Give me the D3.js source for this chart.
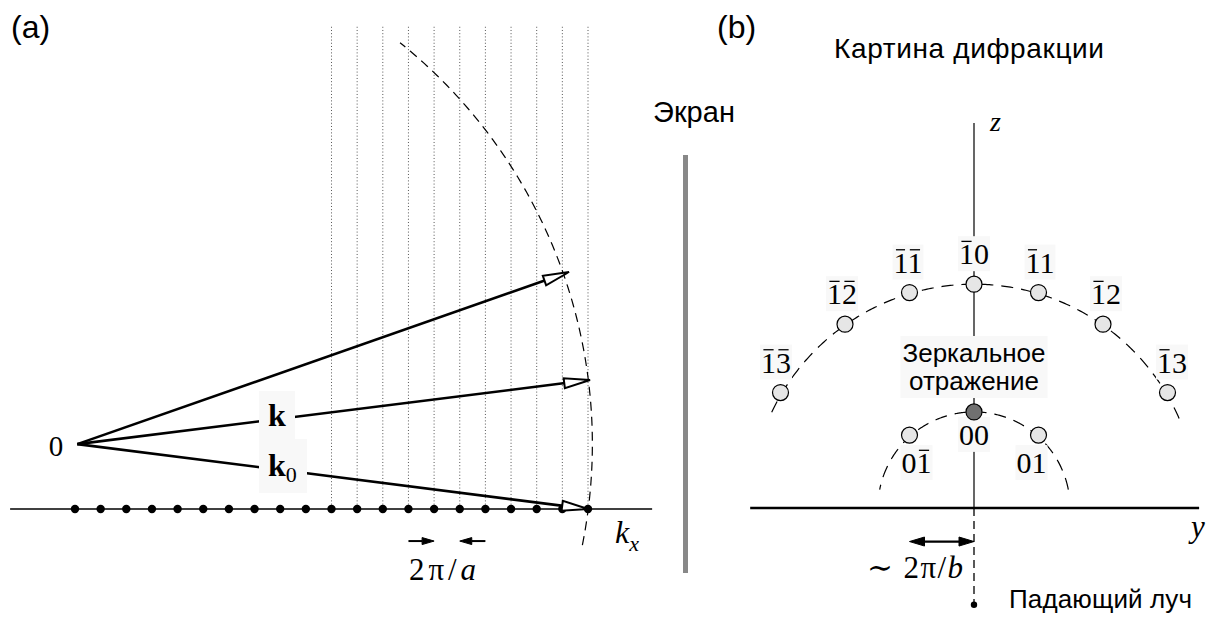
<!DOCTYPE html>
<html>
<head>
<meta charset="utf-8">
<script src="https://cdn.jsdelivr.net/npm/d3@7/dist/d3.min.js"></script>
<style>
  body { margin: 0; background: #fff; }
  svg { display: block; }
</style>
</head>
<body>
<div id="chart"></div>
<script>
// ---- panel (a): reciprocal lattice along kx, units of 2pi/a ----
var latticeSites = [0, 1, 2, 3, 4, 5, 6, 7, 8, 9, 10, 11, 12, 13, 14, 15, 16, 17, 18, 19, 20]
var rodSites = [10, 11, 12, 13, 14, 15, 16, 17, 18, 19, 20]
var rodTop = 18.8
var kxAxis = [-2.53, 22.5]
var origin = [0.09, 2.53]
var kTips = [[19.26, 9.24], [20.08, 5.03], [20.0, 0.0]]
var kNames = ['', 'k', 'k0']
var ewaldRadius = 20.08
var ewaldAngles = [-11.3, 51.6] // degrees
var periodMarks = [[13, 14], [16, 15]] // arrows showing one period
var periodMarkLevel = -1.25

// ---- panel (b): diffraction pattern, units of 2pi/b ----
var outerN = [-3, -2, -1, 0, 1, 2, 3]
var outerZ = [1.79, 2.85, 3.34, 3.47, 3.34, 2.85, 1.79]
var outerLabels = ['13', '12', '11', '10', '11', '12', '13']
var outerBars = [[0, 1], [0, 1], [0, 1], [0], [0], [0], [0]]
var innerN = [-1, 0, 1]
var innerZ = [1.13, 1.49, 1.13]
var innerLabels = ['01', '00', '01']
var innerBars = [[1], [], []]
var outerArc = { r: 3.47, angles: [23.6, 156.4] }
var innerArc = { r: 1.49, angles: [11, 169] }
var yAxisExtent = [-3.47, 3.49]
var zTop = 5.97
var beamZ = -1.5
var periodBLevel = -0.52

var W = 1216
var H = 617
var mathFont = '"Liberation Serif", "DejaVu Serif", serif'
var sansFont = '"Liberation Sans", Arial, sans-serif'

var svg = d3.select('#chart').append('svg')
  .attr('width', W)
  .attr('height', H)
  .attr('viewBox', [0, 0, W, H].join(' '))

// scales for (a)
var xa = d3.scaleLinear().domain([0, 20]).range([75, 588])
var ya = d3.scaleLinear().domain([0, 10]).range([509, 252.5])

// scales for (b)
var yb = d3.scaleLinear().domain([0, 1]).range([974, 1038.5])
var zb = d3.scaleLinear().domain([0, 1]).range([508, 443.5])

function arrowHead (g, x0, y0, x1, y1, len, half, fill) {
  var dx = x1 - x0
  var dy = y1 - y0
  var d = Math.sqrt(dx * dx + dy * dy)
  var ux = dx / d
  var uy = dy / d
  var bx = x1 - ux * len
  var by = y1 - uy * len
  g.append('path')
    .attr('d', d3.line()([[x1, y1], [bx - uy * half, by + ux * half], [bx + uy * half, by - ux * half]]) + 'Z')
    .attr('fill', fill)
    .attr('stroke', '#000')
    .attr('stroke-width', fill === '#000' ? 1 : 2)
    .attr('stroke-linejoin', 'miter')
  return [bx, by]
}

function barText (g, x, y, str, bars, size) {
  var t = g.append('text')
    .attr('x', x)
    .attr('y', y)
    .attr('text-anchor', 'middle')
    .attr('font-family', mathFont)
    .attr('font-size', size)
    .text(str)
  bars.forEach(function (i) {
    var e = t.node().getExtentOfChar(i)
    g.append('line')
      .attr('x1', e.x + size * 0.08)
      .attr('x2', e.x + e.width - size * 0.08)
      .attr('y1', y - size * 0.76)
      .attr('y2', y - size * 0.76)
      .attr('stroke', '#000')
      .attr('stroke-width', 1.3)
  })
  return t
}

function boxBehind (boxLayer, node, pad, fill) {
  var b = node.getBBox()
  boxLayer.append('rect')
    .attr('x', b.x - pad)
    .attr('y', b.y - pad)
    .attr('width', b.width + 2 * pad)
    .attr('height', b.height + 2 * pad)
    .attr('fill', fill)
}

// ================= panel (a) =================
var ga = svg.append('g')

ga.selectAll('line.rod').data(rodSites).enter().append('line')
  .attr('class', 'rod')
  .attr('x1', function (d) { return xa(d) })
  .attr('x2', function (d) { return xa(d) })
  .attr('y1', ya(rodTop))
  .attr('y2', ya(0))
  .attr('stroke', '#555')
  .attr('stroke-width', 1)
  .attr('stroke-dasharray', '1,2.2')

ga.append('line')
  .attr('x1', xa(kxAxis[0]))
  .attr('x2', xa(kxAxis[1]))
  .attr('y1', ya(0))
  .attr('y2', ya(0))
  .attr('stroke', '#000')
  .attr('stroke-width', 1.3)

// Ewald circle
var ewaldPts = d3.range(ewaldAngles[0], ewaldAngles[1] + 0.01, 0.5).map(function (a) {
  var r = a * Math.PI / 180
  return [xa(origin[0] + ewaldRadius * Math.cos(r)), ya(origin[1] + ewaldRadius * Math.sin(r))]
})
ga.append('path')
  .attr('d', d3.line()(ewaldPts))
  .attr('fill', 'none')
  .attr('stroke', '#000')
  .attr('stroke-width', 1.2)
  .attr('stroke-dasharray', '9,6')

// k vectors
var ox = xa(origin[0])
var oy = ya(origin[1])
kTips.forEach(function (t) {
  var tx = xa(t[0])
  var ty = ya(t[1])
  var dx = tx - ox
  var dy = ty - oy
  var d = Math.sqrt(dx * dx + dy * dy)
  var ex = tx - dx / d * 25
  var ey = ty - dy / d * 25
  ga.append('line')
    .attr('x1', ox).attr('y1', oy).attr('x2', ex).attr('y2', ey)
    .attr('stroke', '#000')
    .attr('stroke-width', 2.6)
})

ga.selectAll('circle.site').data(latticeSites).enter().append('circle')
  .attr('class', 'site')
  .attr('cx', function (d) { return xa(d) })
  .attr('cy', ya(0))
  .attr('r', 4.2)
  .attr('fill', '#000')

kTips.forEach(function (t) {
  arrowHead(ga, ox, oy, xa(t[0]), ya(t[1]), 26, 5, '#fff')
})

// k labels with light boxes
var boxA = ga.append('g')
var txtA = ga.append('g')
kTips.forEach(function (t, i) {
  if (!kNames[i]) return
  var tx = txtA.append('text')
    .attr('x', 268)
    .attr('y', i === 1 ? 426 : 476)
    .attr('font-family', mathFont)
    .attr('font-weight', 'bold')
    .attr('font-size', 32)
  tx.append('tspan').text('k')
  if (kNames[i] === 'k0') {
    tx.append('tspan').attr('font-weight', 'normal').attr('font-size', 22).attr('dy', 6).text('0')
  }
  boxA.append('rect')
    .attr('x', 259).attr('y', i === 1 ? 391 : 439)
    .attr('width', i === 1 ? 36 : 48).attr('height', i === 1 ? 48 : 54)
    .attr('fill', '#f8f8f8')
})

ga.append('text')
  .attr('x', 56)
  .attr('y', 456)
  .attr('text-anchor', 'middle')
  .attr('font-family', mathFont)
  .attr('font-size', 29)
  .text('0')

periodMarks.forEach(function (m) {
  var x0 = xa(m[0])
  var x1 = xa(m[1])
  var yy = ya(periodMarkLevel)
  var base = arrowHead(ga, x0, yy, x1, yy, 12, 3.5, '#000')
  ga.append('line')
    .attr('x1', x0).attr('x2', base[0]).attr('y1', yy).attr('y2', yy)
    .attr('stroke', '#000').attr('stroke-width', 2)
})

ga.append('text')
  .attr('x', 409)
  .attr('y', 580)
  .attr('font-family', mathFont)
  .attr('font-size', 31)
  .attr('textLength', 67)
  .attr('lengthAdjust', 'spacing')
  .html('2π/<tspan font-style="italic">a</tspan>')

var kxLab = ga.append('text')
  .attr('x', 615)
  .attr('y', 543)
  .attr('font-family', mathFont)
  .attr('font-style', 'italic')
  .attr('font-size', 32)
kxLab.append('tspan').text('k')
kxLab.append('tspan').attr('font-size', 22).attr('dy', 8).text('x')

ga.append('text')
  .attr('x', 11)
  .attr('y', 38)
  .attr('font-family', sansFont)
  .attr('font-size', 32)
  .text('(a)')

// ================= screen =================
svg.append('rect')
  .attr('x', 683)
  .attr('y', 155)
  .attr('width', 5)
  .attr('height', 418)
  .attr('fill', '#888')

svg.append('text')
  .attr('x', 653)
  .attr('y', 122)
  .attr('font-family', sansFont)
  .attr('font-size', 29)
  .attr('textLength', 82)
  .text('Экран')

// ================= panel (b) =================
var gb = svg.append('g')

gb.append('line')
  .attr('x1', yb(0)).attr('x2', yb(0))
  .attr('y1', zb(zTop)).attr('y2', zb(0))
  .attr('stroke', '#000').attr('stroke-width', 1.2)

gb.append('line')
  .attr('x1', yb(0)).attr('x2', yb(0))
  .attr('y1', zb(0)).attr('y2', zb(beamZ))
  .attr('stroke', '#000').attr('stroke-width', 1.3)
  .attr('stroke-dasharray', '8,5')

gb.append('line')
  .attr('x1', yb(yAxisExtent[0])).attr('x2', yb(yAxisExtent[1]))
  .attr('y1', zb(0)).attr('y2', zb(0))
  .attr('stroke', '#000').attr('stroke-width', 2.6)

function arcPath (arc) {
  var pts = d3.range(arc.angles[0], arc.angles[1] + 0.01, 0.5).map(function (a) {
    var r = a * Math.PI / 180
    return [yb(arc.r * Math.cos(r)), zb(arc.r * Math.sin(r))]
  })
  return d3.line()(pts)
}
;[outerArc, innerArc].forEach(function (arc) {
  gb.append('path')
    .attr('d', arcPath(arc))
    .attr('fill', 'none')
    .attr('stroke', '#000')
    .attr('stroke-width', 1.2)
    .attr('stroke-dasharray', '12,8')
})

var boxB = gb.append('g')
var txtB = gb.append('g')

outerN.forEach(function (n, i) {
  var t = barText(txtB, yb(n) + n * 1.5, zb(outerZ[i]) - 20, outerLabels[i], outerBars[i], 30)
  boxBehind(boxB, t.node(), 1, '#f8f8f8')
})
innerN.forEach(function (n, i) {
  var t = barText(txtB, yb(n) - n * 7, zb(innerZ[i]) + (n === 0 ? 33 : 38), innerLabels[i], innerBars[i], 30)
  boxBehind(boxB, t.node(), 1, '#f8f8f8')
})

var mirror = txtB.append('text')
  .attr('text-anchor', 'middle')
  .attr('font-family', sansFont)
  .attr('font-size', 26)
mirror.append('tspan').attr('x', yb(0)).attr('y', 362).text('Зеркальное')
mirror.append('tspan').attr('x', yb(0)).attr('y', 390).text('отражение')
boxBehind(boxB, mirror.node(), 2, '#f8f8f8')

gb.selectAll('circle.outer').data(outerN).enter().append('circle')
  .attr('class', 'outer')
  .attr('cx', function (d) { return yb(d) })
  .attr('cy', function (d, i) { return zb(outerZ[i]) })
  .attr('r', 8)
  .attr('fill', '#e6e6e6')
  .attr('stroke', '#000')
  .attr('stroke-width', 1.2)

gb.selectAll('circle.inner').data(innerN).enter().append('circle')
  .attr('class', 'inner')
  .attr('cx', function (d) { return yb(d) })
  .attr('cy', function (d, i) { return zb(innerZ[i]) })
  .attr('r', 8)
  .attr('fill', function (d) { return d === 0 ? '#707070' : '#e6e6e6' })
  .attr('stroke', '#000')
  .attr('stroke-width', 1.2)

gb.append('circle')
  .attr('cx', yb(0))
  .attr('cy', zb(beamZ))
  .attr('r', 3.2)
  .attr('fill', '#000')

// period 2pi/b double arrow
var pbY = zb(periodBLevel)
arrowHead(gb, yb(0), pbY, yb(-1), pbY, 15, 4.5, '#000')
arrowHead(gb, yb(-1), pbY, yb(0), pbY, 15, 4.5, '#000')
gb.append('line')
  .attr('x1', yb(-1) + 12).attr('x2', yb(0) - 12)
  .attr('y1', pbY).attr('y2', pbY)
  .attr('stroke', '#000').attr('stroke-width', 2.2)

gb.append('text')
  .attr('x', 867)
  .attr('y', 578)
  .attr('font-family', mathFont)
  .attr('font-size', 31)
  .attr('textLength', 96)
  .attr('lengthAdjust', 'spacing')
  .html('∼ 2π/<tspan font-style="italic">b</tspan>')

gb.append('text')
  .attr('x', 990)
  .attr('y', 131)
  .attr('font-family', mathFont)
  .attr('font-style', 'italic')
  .attr('font-size', 28)
  .text('z')

gb.append('text')
  .attr('x', 1191)
  .attr('y', 537)
  .attr('font-family', mathFont)
  .attr('font-style', 'italic')
  .attr('font-size', 31)
  .text('y')

gb.append('text')
  .attr('x', 1009)
  .attr('y', 608)
  .attr('font-family', sansFont)
  .attr('font-size', 26)
  .attr('textLength', 183)
  .text('Падающий луч')

gb.append('text')
  .attr('x', 834)
  .attr('y', 58)
  .attr('font-family', sansFont)
  .attr('font-size', 28)
  .attr('textLength', 270)
  .text('Картина дифракции')

gb.append('text')
  .attr('x', 717)
  .attr('y', 38)
  .attr('font-family', sansFont)
  .attr('font-size', 32)
  .text('(b)')
</script>
</body>
</html>
